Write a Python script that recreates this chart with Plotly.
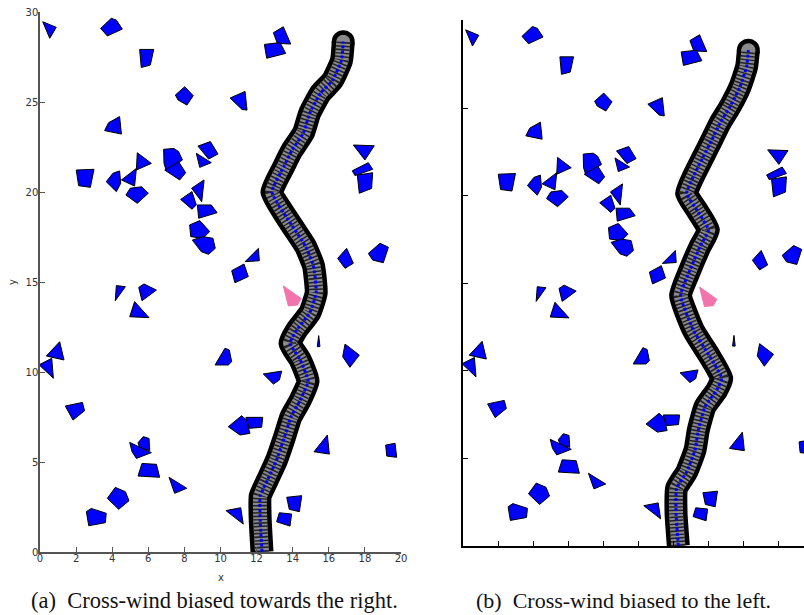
import plotly.graph_objects as go

# ---------------- data ----------------
OBSTACLES = [
    [(0.15, 29.46), (0.9, 29.15), (0.54, 28.54)],
    [(3.36, 29.09), (3.95, 29.65), (4.23, 29.55), (4.56, 29.05), (3.73, 28.67)],
    [(5.52, 27.92), (6.30, 27.92), (6.11, 27.05), (5.61, 26.92)],
    [(7.50, 25.39), (8.02, 25.85), (8.49, 25.35), (8.14, 24.83), (7.65, 25.11)],
    [(3.58, 23.41), (3.80, 23.85), (4.41, 24.19), (4.51, 23.22)],
    [(8.75, 22.55), (9.44, 22.80), (9.86, 22.11), (9.34, 21.83)],
    [(8.66, 22.15), (9.49, 21.63), (8.85, 21.37)],
    [(6.85, 22.37), (7.42, 22.42), (7.68, 22.24), (7.89, 21.78), (7.00, 21.18), (6.87, 21.59)],
    [(6.91, 21.22), (7.68, 21.68), (8.07, 21.07), (7.74, 20.67)],
    [(5.39, 22.18), (6.17, 21.59), (5.34, 21.22)],
    [(2.01, 21.22), (2.99, 21.26), (2.79, 20.26), (2.14, 20.35)],
    [(3.67, 20.57), (4.04, 21.04), (4.41, 21.17), (4.47, 20.48), (4.23, 20.02)],
    [(4.51, 20.67), (5.34, 21.31), (5.24, 20.33)],
    [(4.76, 19.83), (5.0, 20.21), (5.63, 20.29), (6.0, 19.93), (5.39, 19.37)],
    [(12.93, 28.85), (13.48, 29.18), (13.89, 28.22), (13.15, 28.26)],
    [(12.43, 28.2), (13.3, 28.3), (13.61, 27.7), (12.56, 27.43)],
    [(10.53, 25.22), (11.36, 25.59), (11.47, 24.55), (11.19, 24.59)],
    [(17.36, 22.61), (18.52, 22.57), (18.0, 21.78)],
    [(17.30, 21.18), (18.19, 21.63), (18.43, 21.26), (17.45, 20.91)],
    [(17.58, 20.94), (18.43, 21.07), (18.37, 20.2), (17.69, 19.93)],
    [(7.79, 19.59), (8.42, 20.02), (8.66, 19.28), (8.42, 19.04)],
    [(8.40, 20.21), (9.09, 20.67), (8.96, 19.46)],
    [(8.72, 19.28), (9.49, 19.28), (9.81, 18.85), (8.79, 18.54)],
    [(8.29, 18.17), (8.85, 18.41), (9.40, 17.8), (9.03, 17.43), (8.35, 17.52)],
    [(8.44, 17.33), (9.03, 17.52), (9.58, 17.43), (9.71, 16.87), (9.34, 16.54), (8.94, 16.68)],
    [(4.23, 14.8), (4.73, 14.74), (4.17, 13.96)],
    [(5.47, 14.7), (5.76, 14.89), (6.45, 14.55), (5.65, 13.96)],
    [(5.24, 13.91), (6.04, 13.02), (4.97, 13.07)],
    [(1.09, 11.68), (1.33, 10.67), (0.35, 10.89)],
    [(-0.05, 10.4), (0.65, 10.76), (0.74, 9.65)],
    [(9.7, 10.39), (10.25, 11.32), (10.49, 11.22), (10.62, 10.57), (10.43, 10.39)],
    [(11.36, 16.13), (12.1, 16.87), (12.15, 16.18)],
    [(10.62, 15.63), (11.3, 16.0), (11.54, 15.3), (10.8, 14.96)],
    [(16.49, 16.31), (16.99, 16.87), (17.36, 16.04), (16.9, 15.76)],
    [(18.19, 16.59), (18.84, 17.15), (19.3, 16.93), (19.02, 16.07), (18.43, 16.22)],
    [(15.44, 12.02), (15.51, 11.41), (15.36, 11.41)],
    [(16.9, 11.55), (17.69, 10.94), (17.17, 10.26), (16.77, 10.85)],
    [(12.37, 9.89), (13.39, 10.05), (13.26, 9.55), (12.93, 9.33)],
    [(1.40, 8.11), (2.35, 8.31), (2.47, 7.85), (1.83, 7.33)],
    [(5.43, 6.07), (5.72, 6.41), (6.04, 6.31), (6.08, 5.63), (5.52, 5.81)],
    [(4.97, 6.09), (6.17, 5.52), (5.34, 5.2), (5.1, 5.57)],
    [(5.65, 4.92), (6.45, 4.87), (6.63, 4.15), (5.43, 4.22)],
    [(7.15, 4.15), (8.13, 3.54), (7.46, 3.26)],
    [(3.73, 2.98), (4.17, 3.59), (4.73, 3.35), (4.93, 2.85), (4.36, 2.37)],
    [(2.57, 2.24), (2.84, 2.42), (3.67, 2.15), (3.62, 1.63), (2.70, 1.46)],
    [(10.43, 6.96), (11.17, 7.57), (11.45, 7.33), (11.63, 6.59), (11.08, 6.5)],
    [(11.41, 7.48), (12.34, 7.48), (12.28, 6.93), (11.6, 6.87)],
    [(15.18, 5.57), (15.92, 6.5), (16.03, 5.44)],
    [(19.15, 5.94), (19.67, 6.04), (19.76, 5.26), (19.21, 5.33)],
    [(13.67, 3.04), (14.5, 3.13), (14.37, 2.24), (13.81, 2.37)],
    [(13.26, 2.18), (13.94, 2.11), (13.85, 1.44), (13.11, 1.68)],
    [(10.3, 2.3), (11.12, 2.46), (11.26, 1.55)],
]
TARGET = [(13.48, 14.78), (14.46, 14.09), (14.26, 13.72), (13.76, 13.67)]

PATH_A_X = [12.3, 12.2, 12.2, 12.6, 13.1, 13.55, 13.9, 14.4, 14.85, 14.4, 13.85, 14.2, 14.95,
            15.3, 15.15, 14.7, 13.85, 12.85, 13.5, 13.95, 14.6, 14.95, 15.55, 16.2, 16.7, 16.8]
PATH_A_Y = [0.0, 1.8, 3.1, 4.0, 5.1, 6.4, 7.5, 8.4, 9.5, 10.7, 11.6, 12.3, 13.3,
            14.4, 15.9, 17.0, 18.3, 20.0, 21.4, 22.3, 23.3, 24.4, 25.5, 26.2, 27.3, 28.35]
PATH_B_X = [12.27, 12.14, 12.17, 12.75, 13.22, 13.41, 13.79, 14.46, 14.74, 14.07, 13.12, 12.4,
            12.93, 13.5, 13.98, 13.32, 12.74, 13.12, 13.69, 14.17, 14.64, 15.21, 15.78, 16.16, 16.26]
PATH_B_Y = [0.0, 1.87, 3.29, 4.24, 5.48, 6.62, 7.95, 8.9, 9.57, 10.8, 12.33, 14.3,
            15.75, 17.08, 18.04, 19.18, 20.13, 21.08, 22.22, 23.17, 24.13, 25.07, 26.2, 27.36, 28.3]

X_TICKS = [0, 2, 4, 6, 8, 10, 12, 14, 16, 18, 20]
Y_TICKS = [0, 5, 10, 15, 20, 25, 30]
CAPTION_A = "(a)\u00a0\u00a0Cross-wind biased towards the right."
CAPTION_B = "(b)\u00a0\u00a0Cross-wind biased to the left."

# ---------------- figure ----------------
fig = go.Figure()
SMOOTH = 0.45


def add_panel(xa, ya, px, py):
    for poly in OBSTACLES:
        xs = [p[0] for p in poly] + [poly[0][0]]
        ys = [p[1] for p in poly] + [poly[0][1]]
        fig.add_trace(go.Scatter(x=xs, y=ys, xaxis=xa, yaxis=ya, mode="lines", fill="toself",
                                 fillcolor="#0000ff", line=dict(color="black", width=1),
                                 hoverinfo="skip", showlegend=False))
    xs = [p[0] for p in TARGET] + [TARGET[0][0]]
    ys = [p[1] for p in TARGET] + [TARGET[0][1]]
    fig.add_trace(go.Scatter(x=xs, y=ys, xaxis=xa, yaxis=ya, mode="lines", fill="toself",
                             fillcolor="#f373ac", line=dict(color="#f373ac", width=1),
                             hoverinfo="skip", showlegend=False))
    # trajectory: dark outline, grey overlapping circles, blue dashed centre
    fig.add_trace(go.Scatter(x=px, y=py, xaxis=xa, yaxis=ya, mode="lines",
                             line=dict(color="#000000", width=23, shape="spline", smoothing=SMOOTH),
                             hoverinfo="skip", showlegend=False))
    fig.add_trace(go.Scatter(x=[px[-1]], y=[py[-1]], xaxis=xa, yaxis=ya, mode="markers",
                             marker=dict(size=23, color="#000000"), hoverinfo="skip", showlegend=False))
    fig.add_trace(go.Scatter(x=px, y=py, xaxis=xa, yaxis=ya, mode="lines",
                             line=dict(color="#8a8a8a", width=14, shape="spline", smoothing=SMOOTH),
                             hoverinfo="skip", showlegend=False))
    fig.add_trace(go.Scatter(x=[px[-1]], y=[py[-1]], xaxis=xa, yaxis=ya, mode="markers",
                             marker=dict(size=14, color="#8a8a8a"), hoverinfo="skip", showlegend=False))
    fig.add_trace(go.Scatter(x=px, y=py, xaxis=xa, yaxis=ya, mode="lines",
                             line=dict(color="#222222", width=14, dash="1.5px,2px",
                                       shape="spline", smoothing=SMOOTH),
                             hoverinfo="skip", showlegend=False))
    fig.add_trace(go.Scatter(x=px, y=py, xaxis=xa, yaxis=ya, mode="lines",
                             line=dict(color="#0000ff", width=3, dash="3px,2px",
                                       shape="spline", smoothing=SMOOTH),
                             hoverinfo="skip", showlegend=False))


add_panel("x", "y", PATH_A_X, PATH_A_Y)
add_panel("x2", "y2", PATH_B_X, PATH_B_Y)

W, H = 804, 615
tickfont = dict(family="DejaVu Sans", size=10, color="#333333")
common = dict(showgrid=False, zeroline=False, showline=True, ticks="inside", ticklen=5,
              tickwidth=1, automargin=False)

fig.update_layout(
    width=W, height=H,
    margin=dict(l=0, r=0, t=0, b=0),
    paper_bgcolor="white", plot_bgcolor="white",
    showlegend=False,
    xaxis=dict(domain=[40 / W, 401 / W], range=[0, 20], tickvals=X_TICKS, tickfont=tickfont,
               linecolor="#555555", linewidth=1.5, tickcolor="#555555", anchor="y",
               ticklabelstandoff=-4, **common),
    yaxis=dict(domain=[(H - 552) / H, (H - 12) / H], range=[0, 30], tickvals=Y_TICKS,
               tickfont=tickfont, linecolor="#555555", linewidth=1.5, tickcolor="#555555",
               anchor="x", ticklabelstandoff=-2, **common),
    xaxis2=dict(domain=[463 / W, 1.0], range=[0, (804 - 463) / 17.55], tickvals=X_TICKS,
                showticklabels=False, linecolor="#000000", linewidth=1.5, tickcolor="#000000",
                anchor="y2", **common),
    yaxis2=dict(domain=[(H - 546) / H, (H - 20.4) / H], range=[0, 30], tickvals=Y_TICKS,
                showticklabels=False, linecolor="#000000", linewidth=1.5, tickcolor="#000000",
                anchor="x2", **common),
    annotations=[
        dict(text="x", x=220.5 / W, y=(H - 577) / H, xref="paper", yref="paper",
             xanchor="center", yanchor="middle",
             showarrow=False, font=dict(family="DejaVu Sans", size=10, color="#333333")),
        dict(text="y", x=12 / W, y=(H - 282) / H, xref="paper", yref="paper", textangle=-90,
             xanchor="center", yanchor="middle",
             showarrow=False, font=dict(family="DejaVu Sans", size=10, color="#333333")),
        dict(text=CAPTION_A, x=215 / W, y=(H - 600) / H, xref="paper", yref="paper",
             xanchor="center", yanchor="middle",
             showarrow=False, font=dict(family="Liberation Serif", size=22.5, color="#111111")),
        dict(text=CAPTION_B, x=623 / W, y=(H - 600) / H, xref="paper", yref="paper",
             xanchor="center", yanchor="middle",
             showarrow=False, font=dict(family="Liberation Serif", size=22, color="#111111")),
    ],
)

fig.write_html("out.html", config={"displayModeBar": False},
               post_script="document.body.style.margin='0px';")
